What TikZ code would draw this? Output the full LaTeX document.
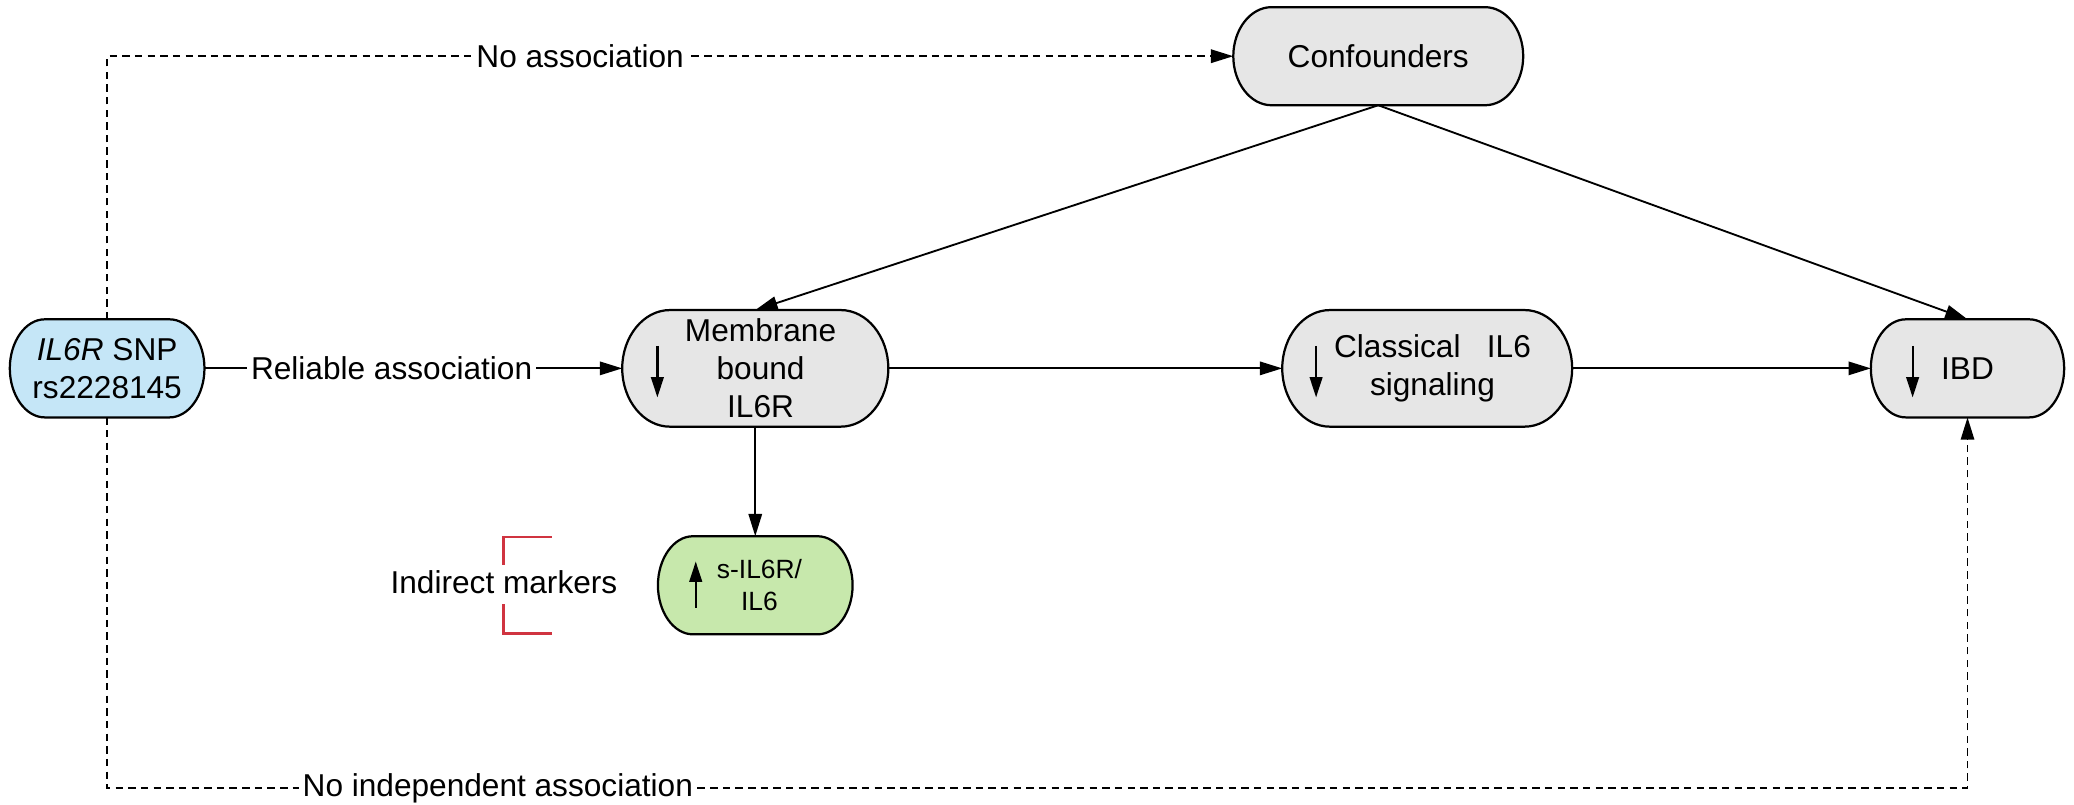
\documentclass[tikz,border=0pt]{standalone}
\usepackage{fontspec}
\setmainfont{Liberation Sans}
\usetikzlibrary{arrows.meta,calc}
\definecolor{snpblue}{RGB}{197,230,247}
\definecolor{boxgray}{RGB}{230,230,230}
\definecolor{mkgreen}{RGB}{199,232,172}
\definecolor{brred}{RGB}{208,52,64}
\pgfdeclarelayer{bg}
\pgfsetlayers{bg,main}
% #1 node name, #2 fill colour, #3 x radius of the ends, #4 half height
\newcommand\drawpill[4]{%
  \path[draw, fill=#2, line width=0.6pt]
    ($(#1.north east)+(-#3,0)$)
    .. controls ($(#1.north east)+(-#3,0)+0.5523*(#3,0)$)
            and ($(#1.east)+0.5523*(0,#4)$) .. (#1.east)
    .. controls ($(#1.east)+0.5523*(0,-#4)$)
            and ($(#1.south east)+(-#3,0)+0.5523*(#3,0)$) .. ($(#1.south east)+(-#3,0)$)
    -- ($(#1.south west)+(#3,0)$)
    .. controls ($(#1.south west)+(#3,0)+0.5523*(-#3,0)$)
            and ($(#1.west)+0.5523*(0,-#4)$) .. (#1.west)
    .. controls ($(#1.west)+0.5523*(0,#4)$)
            and ($(#1.north west)+(#3,0)+0.5523*(-#3,0)$) .. ($(#1.north west)+(#3,0)$)
    -- cycle;}
\begin{document}
\begin{tikzpicture}[x=0.0125cm,y=-0.0125cm,
  box/.style={inner sep=0pt, align=center,
    font=\fontsize{8.5}{10.3}\selectfont},
  smallbox/.style={box, minimum height=0.9125cm},
  bigbox/.style={box, minimum height=1.0875cm},
  conn/.style={line width=0.5pt, -{Triangle[length=6pt,width=3.6pt]}},
  dashconn/.style={conn, dash pattern=on 2pt off 1.4pt},
  lbl/.style={fill=white, inner sep=1pt, font=\fontsize{8.5}{10}\selectfont},
  inarrow/.style={line width=0.6pt, -{Triangle[length=5.5pt,width=3.4pt]}},
  bracket/.style={draw=brred, line width=0.8pt}]
\useasboundingbox (0,0) rectangle (1568,608);

% nodes
\node[smallbox, minimum width=1.825cm] (snp) at (81,278.5)
  {\textit{IL6R} SNP\\rs2228145};
\node[bigbox, minimum width=2.5cm] (mem) at (571,278.5)
  {\hspace*{0.1cm}Membrane\\\hspace*{0.1cm}bound\\\hspace*{0.1cm}IL6R};
\node[bigbox, minimum width=2.725cm] (cls) at (1079,278.5)
  {\hspace*{0.1cm}Classical\ \ \ IL6\\\hspace*{0.1cm}signaling};
\node[smallbox, minimum width=1.8125cm] (ibd) at (1487.5,278.5)
  {IBD};
\node[smallbox, minimum width=2.725cm] (conf) at (1042,42.5)
  {Confounders};
\node[smallbox, minimum width=1.825cm,
  font=\fontsize{7.1}{8.6}\selectfont] (sil) at (571,442.5)
  {\hspace*{0.08cm}s-IL6R/\\\hspace*{0.08cm}IL6};

\begin{pgfonlayer}{bg}
  \drawpill{snp}{snpblue}{0.33cm}{0.45625cm}
  \drawpill{mem}{boxgray}{0.45cm}{0.54375cm}
  \drawpill{cls}{boxgray}{0.45cm}{0.54375cm}
  \drawpill{ibd}{boxgray}{0.33cm}{0.45625cm}
  \drawpill{conf}{boxgray}{0.36cm}{0.45625cm}
  \drawpill{sil}{mkgreen}{0.33cm}{0.45625cm}
\end{pgfonlayer}

% inner arrows
\draw[inarrow] ($(mem.center)+(-74,-17)$) -- ($(mem.center)+(-74,22)$);
\draw[inarrow] ($(cls.center)+(-84,-17)$) -- ($(cls.center)+(-84,22)$);
\draw[inarrow] ($(ibd.center)+(-41.5,-17)$) -- ($(ibd.center)+(-41.5,22)$);
\draw[inarrow] ($(sil.center)+(-45,17)$) -- ($(sil.center)+(-45,-18)$);

% indirect markers
\node[lbl, fill=none] (ind) at (381,440) {Indirect markers};
\draw[bracket] (381,427) -- (381,406) -- (417,406);
\draw[bracket] (381,457) -- (381,479) -- (417,479);

% connectors
\draw[dashconn] (snp.north) |- node[pos=0.71,lbl]{No association} (conf.west);
\draw[conn] (snp.east) -- node[pos=0.448,lbl]{Reliable association} (mem.west);
\draw[conn] (mem.east) -- (cls.west);
\draw[conn] (cls.east) -- (ibd.west);
\draw[conn] (conf.south) -- (mem.north);
\draw[conn] (conf.south) -- (ibd.north);
\draw[conn] (mem.south) -- (sil.north);
\coordinate (bot) at (81,596);
\draw[dashconn] (snp.south) -- (bot) -| node[pos=0.105,lbl]{No independent association} (ibd.south);
\end{tikzpicture}
\end{document}
